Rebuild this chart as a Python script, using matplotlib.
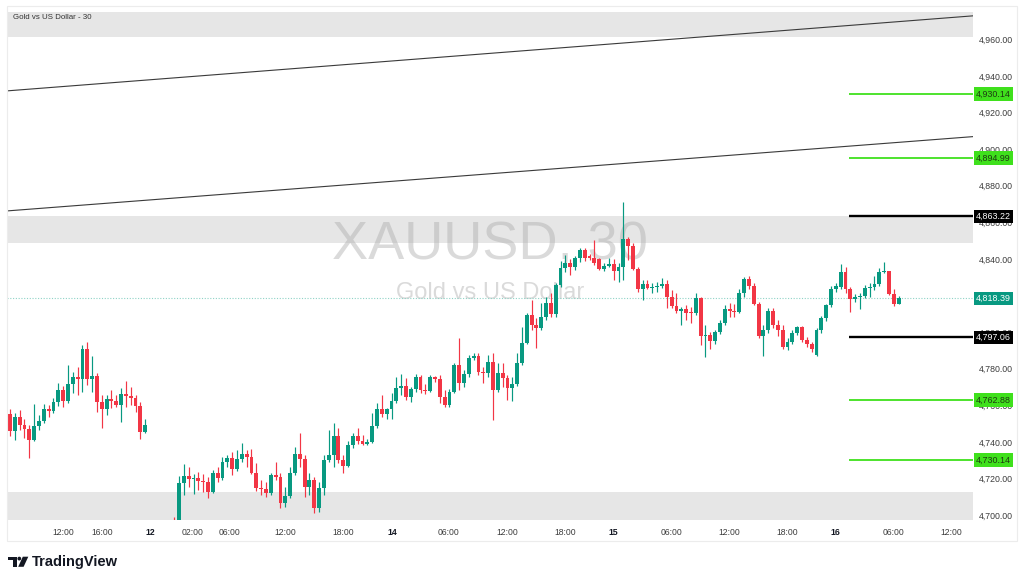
import matplotlib
matplotlib.use('Agg')
import matplotlib.pyplot as plt
import matplotlib.transforms as mtransforms
from matplotlib.patches import Rectangle, Circle, Polygon
import numpy as np

plt.rcParams['font.family'] = ['Liberation Sans', 'DejaVu Sans']

# ---------------- data (30-minute candles, XAUUSD) ----------------
opens = [4755.2, 4746.1, 4753.4, 4749.2, 4746.8, 4741.0, 4748.6, 4751.4, 4757.9, 4757.0,
         4761.7, 4768.3, 4762.5, 4771.6, 4775.6, 4774.5, 4790.5, 4774.5, 4776.0, 4761.9,
         4758.1, 4763.6, 4762.5, 4760.1, 4765.9, 4765.0, 4763.8, 4759.6, 4745.5, 4688.0,
         4680.0, 4676.0, 4684.0, 4679.0, 4686.0, 4683.0, 4717.3, 4721.3, 4719.7, 4720.2,
         4718.8, 4717.9, 4712.8, 4722.8, 4720.0, 4729.2, 4731.0, 4725.0, 4730.4, 4733.4,
         4731.9, 4723.2, 4714.6, 4714.2, 4712.2, 4721.9, 4721.0, 4706.4, 4710.4, 4723.2,
         4733.4, 4730.4, 4715.1, 4719.1, 4703.7, 4714.6, 4730.1, 4732.8, 4743.2, 4730.1,
         4726.8, 4738.3, 4743.2, 4740.6, 4738.8, 4740.0, 4748.7, 4757.8, 4755.2, 4757.8,
         4762.5, 4769.6, 4770.5, 4764.7, 4768.7, 4775.2, 4768.3, 4767.8, 4775.6, 4774.1,
         4764.6, 4760.1, 4767.4, 4782.0, 4772.3, 4777.0, 4786.0, 4787.1, 4778.3, 4777.8,
         4783.8, 4768.3, 4777.8, 4774.7, 4769.2, 4771.6, 4782.9, 4794.2, 4809.3, 4803.8,
         4802.4, 4808.0, 4816.0, 4809.8, 4825.7, 4834.8, 4837.9, 4835.3, 4840.3, 4844.8,
         4841.5, 4840.3, 4839.7, 4834.2, 4836.0, 4837.2, 4833.5, 4835.3, 4850.6, 4847.0,
         4834.2, 4823.3, 4826.0, 4823.9, 4824.8, 4825.1, 4826.0, 4819.3, 4814.2, 4811.7,
         4812.4, 4810.5, 4810.2, 4818.4, 4797.8, 4798.3, 4795.2, 4800.2, 4805.1, 4812.4,
         4811.6, 4811.1, 4821.5, 4828.8, 4825.1, 4815.6, 4797.8, 4801.4, 4811.6, 4803.8,
         4801.4, 4792.0, 4794.7, 4799.6, 4802.9, 4795.6, 4793.4, 4787.4, 4801.1, 4807.5,
         4814.7, 4823.3, 4824.4, 4833.0, 4823.4, 4817.9, 4819.0, 4819.7, 4823.9, 4824.5,
         4826.3, 4833.0, 4833.6, 4820.8, 4815.4]
highs = [4757.7, 4756.0, 4757.4, 4752.3, 4749.2, 4760.7, 4754.6, 4760.7, 4760.1, 4763.7,
         4772.0, 4770.5, 4782.0, 4778.3, 4780.7, 4792.9, 4794.7, 4786.9, 4777.8, 4765.6,
         4765.6, 4768.3, 4765.6, 4769.2, 4773.4, 4770.1, 4765.6, 4761.9, 4752.3, 4693.0,
         4686.0, 4690.0, 4689.0, 4692.0, 4699.1, 4721.3, 4727.9, 4726.1, 4722.4, 4723.7,
         4722.4, 4721.0, 4724.6, 4726.1, 4731.5, 4732.8, 4734.6, 4735.5, 4739.5, 4735.5,
         4735.9, 4728.6, 4719.1, 4718.2, 4723.2, 4729.2, 4722.8, 4715.5, 4726.1, 4737.4,
         4745.0, 4732.8, 4722.8, 4721.0, 4718.2, 4732.8, 4746.5, 4750.1, 4747.4, 4732.8,
         4740.6, 4744.7, 4747.4, 4743.7, 4741.4, 4756.0, 4761.0, 4765.6, 4758.3, 4766.9,
         4775.6, 4776.9, 4774.7, 4770.1, 4776.9, 4776.5, 4771.4, 4776.5, 4776.1, 4776.5,
         4768.3, 4768.7, 4782.9, 4796.5, 4779.2, 4787.4, 4788.7, 4788.4, 4781.1, 4787.4,
         4788.4, 4782.9, 4782.9, 4776.5, 4775.6, 4788.4, 4802.9, 4810.6, 4817.5, 4807.5,
         4815.7, 4819.3, 4821.1, 4826.6, 4839.0, 4842.1, 4839.7, 4841.5, 4845.7, 4845.7,
         4842.5, 4850.3, 4840.3, 4837.5, 4840.3, 4839.7, 4837.5, 4871.2, 4852.1, 4848.4,
         4835.7, 4828.4, 4828.4, 4826.6, 4827.5, 4829.3, 4828.4, 4822.9, 4821.1, 4813.8,
         4814.7, 4813.8, 4821.1, 4819.3, 4803.8, 4800.2, 4801.4, 4806.5, 4814.7, 4816.0,
         4815.6, 4823.8, 4830.2, 4830.6, 4826.6, 4816.6, 4803.8, 4812.9, 4812.9, 4806.5,
         4803.8, 4796.5, 4801.1, 4803.3, 4803.3, 4797.1, 4794.7, 4802.0, 4808.7, 4815.6,
         4825.1, 4826.6, 4837.1, 4835.8, 4824.8, 4820.8, 4821.2, 4825.7, 4826.6, 4830.7,
         4834.9, 4838.5, 4833.6, 4823.4, 4819.7]
lows = [4743.2, 4741.0, 4746.5, 4741.9, 4731.0, 4740.6, 4746.4, 4750.1, 4753.4, 4755.6,
        4759.6, 4759.2, 4761.0, 4766.5, 4765.6, 4767.4, 4771.0, 4767.4, 4756.5, 4747.4,
        4754.6, 4758.3, 4758.8, 4751.0, 4759.2, 4760.1, 4756.5, 4741.3, 4744.6, 4672.0,
        4668.0, 4670.0, 4674.0, 4675.0, 4678.0, 4680.0, 4711.0, 4715.1, 4711.5, 4713.7,
        4712.8, 4709.1, 4711.9, 4718.2, 4719.1, 4726.1, 4721.9, 4724.2, 4729.2, 4726.1,
        4722.4, 4713.3, 4711.0, 4710.0, 4711.0, 4719.1, 4703.7, 4704.2, 4709.1, 4721.9,
        4726.1, 4709.7, 4711.0, 4701.0, 4701.8, 4711.0, 4729.2, 4726.4, 4728.3, 4723.2,
        4726.1, 4736.5, 4738.8, 4738.3, 4738.3, 4739.5, 4747.4, 4753.8, 4752.3, 4752.3,
        4761.0, 4765.6, 4762.8, 4761.9, 4767.4, 4766.5, 4765.9, 4767.0, 4772.9, 4761.0,
        4759.2, 4759.2, 4766.5, 4768.3, 4770.1, 4775.6, 4784.7, 4776.5, 4772.0, 4775.6,
        4751.9, 4767.4, 4770.1, 4762.8, 4762.5, 4770.5, 4782.0, 4793.4, 4801.1, 4791.1,
        4801.4, 4806.5, 4808.4, 4808.4, 4824.8, 4833.0, 4831.1, 4833.9, 4838.4, 4839.0,
        4839.2, 4836.6, 4833.9, 4833.5, 4835.3, 4828.4, 4827.5, 4828.4, 4839.3, 4833.9,
        4822.0, 4817.5, 4823.3, 4821.1, 4822.0, 4824.0, 4812.9, 4812.9, 4810.2, 4804.0,
        4806.5, 4804.7, 4809.3, 4792.9, 4786.1, 4790.5, 4793.4, 4798.9, 4803.8, 4808.4,
        4808.4, 4810.2, 4819.3, 4823.3, 4814.7, 4796.5, 4786.9, 4799.3, 4802.0, 4797.8,
        4790.5, 4790.1, 4793.4, 4798.3, 4794.7, 4792.0, 4789.2, 4786.9, 4799.6, 4806.2,
        4813.5, 4822.0, 4823.3, 4821.2, 4811.2, 4816.6, 4812.4, 4818.5, 4819.4, 4823.0,
        4825.2, 4832.5, 4820.3, 4814.3, 4815.4]
closes = [4746.1, 4753.4, 4749.2, 4746.8, 4741.0, 4748.6, 4751.4, 4757.9, 4757.0, 4761.7,
          4768.3, 4762.5, 4771.6, 4775.6, 4774.5, 4790.5, 4774.5, 4776.0, 4761.9, 4758.1,
          4763.6, 4762.5, 4760.1, 4765.9, 4765.0, 4763.8, 4759.6, 4745.5, 4749.2, 4680.0,
          4676.0, 4684.0, 4679.0, 4686.0, 4683.0, 4717.3, 4721.3, 4719.7, 4720.2, 4718.8,
          4717.9, 4712.8, 4722.8, 4720.0, 4729.2, 4731.0, 4725.0, 4730.4, 4733.4, 4731.9,
          4723.2, 4714.6, 4714.2, 4712.2, 4721.9, 4721.0, 4706.4, 4710.4, 4723.2, 4733.4,
          4730.4, 4715.1, 4719.1, 4703.7, 4714.6, 4730.1, 4732.8, 4743.2, 4730.1, 4726.8,
          4738.3, 4743.2, 4740.6, 4738.8, 4740.0, 4748.7, 4757.8, 4755.2, 4757.8, 4762.5,
          4769.6, 4770.5, 4764.7, 4768.7, 4775.2, 4768.3, 4767.8, 4775.6, 4774.1, 4764.6,
          4760.1, 4767.4, 4782.0, 4772.3, 4777.0, 4786.0, 4787.1, 4778.3, 4777.8, 4783.8,
          4768.3, 4777.8, 4774.7, 4769.2, 4771.6, 4782.9, 4794.2, 4809.3, 4803.8, 4802.4,
          4808.0, 4816.0, 4809.8, 4825.7, 4834.8, 4837.9, 4835.3, 4840.3, 4844.8, 4840.3,
          4840.3, 4837.5, 4834.2, 4836.0, 4837.2, 4833.5, 4835.3, 4850.6, 4847.0, 4834.2,
          4823.3, 4826.0, 4823.9, 4824.8, 4825.1, 4826.0, 4819.3, 4814.2, 4811.7, 4812.4,
          4810.5, 4810.2, 4818.4, 4797.8, 4798.3, 4795.2, 4800.2, 4805.1, 4812.4, 4811.6,
          4811.1, 4821.5, 4828.8, 4825.1, 4815.6, 4797.8, 4801.4, 4811.6, 4803.8, 4801.4,
          4792.0, 4794.7, 4799.6, 4802.9, 4795.6, 4793.4, 4790.5, 4801.1, 4807.5, 4814.7,
          4823.3, 4825.1, 4833.0, 4823.4, 4817.9, 4819.0, 4819.7, 4823.9, 4824.5, 4826.3,
          4833.0, 4833.6, 4820.8, 4815.4, 4818.39]

time_labels = ['12:00', '16:00', '12', '02:00', '06:00', '12:00', '18:00', '14', '06:00',
               '12:00', '18:00', '15', '06:00', '12:00', '18:00', '16', '06:00', '12:00']
time_label_bar = [11, 19, 29, 37.7, 45.5, 57, 69, 79.2, 90.7, 103, 115, 125, 137, 149,
                  161, 171, 183, 195]
day_labels = ['12', '14', '15', '16']

green_levels = [4930.14, 4894.99, 4762.88, 4730.14]
black_levels = [4863.22, 4797.06]
last_price = 4818.39
level_start_bar = 173.7

zones = [(4961.1, 4990.0), (4848.5, 4863.2), (4680.0, 4712.5)]
trend_upper = [(-0.6, 4931.8), (199.4, 4972.8)]
trend_lower = [(-0.6, 4866.2), (199.4, 4906.8)]

price_ticks = list(range(4700, 4961, 20))

# ---------------- figure ----------------
W, H = 1024, 582
fig = plt.figure(figsize=(W / 100, H / 100), dpi=100)
fig.patch.set_facecolor('white')
ax = fig.add_axes([7 / W, 1 - 520 / H, (973 - 7) / W, (520 - 12) / H])
ax.set_facecolor('white')
XMIN, XMAX = -0.62, 199.4
ax.set_xlim(XMIN, XMAX)
ax.set_ylim(4697.3, 4974.9)
for s in ax.spines.values():
    s.set_visible(False)

# zones
for lo, hi in zones:
    ax.axhspan(lo, hi, color='#e6e6e6', zorder=1, lw=0)

# watermark
ax.text(0.5, 0.541, 'XAUUSD, 30', transform=ax.transAxes, ha='center', va='center',
        fontsize=39, color='#a8a8a8', alpha=0.42, zorder=2)
ax.text(0.5, 0.447, 'Gold vs US Dollar', transform=ax.transAxes, ha='center', va='center',
        fontsize=17, color='#a8a8a8', alpha=0.42, zorder=2)

# title
ax.text(0.0059, 0.9896, 'Gold vs US Dollar - 30', transform=ax.transAxes, ha='left',
        va='center', fontsize=5.7, color='#333333', zorder=6)

# trend lines
for line in (trend_upper, trend_lower):
    xs = [p[0] for p in line]
    ys = [p[1] for p in line]
    ax.plot(xs, ys, color='#3a3a3a', lw=0.8, zorder=3)

# last price dotted line
ax.axhline(last_price, color='#8fd3c6', lw=0.8, ls=(0, (1, 1.5)), zorder=2.5)

# candles
O = np.array(opens); Hh = np.array(highs); L = np.array(lows); C = np.array(closes)
x = np.arange(len(O))
up = C >= O
cols = np.where(up, '#089981', '#F23645')
ax.vlines(x, L, Hh, colors=cols, lw=0.85, zorder=3.5)
bottom = np.minimum(O, C)
height = np.maximum(np.abs(C - O), 0.5)
ax.bar(x, height, bottom=bottom, width=0.8, color=cols, lw=0, zorder=4)

# level lines
ax.hlines(green_levels, level_start_bar, XMAX, colors='#3fe01c', lw=1.3, zorder=5)
ax.hlines(black_levels, level_start_bar, XMAX, colors='#000000', lw=1.7, zorder=5)

# axes ticks
ax.yaxis.tick_right()
ax.set_yticks(price_ticks)
ax.set_yticklabels([f'{v:,.2f}' for v in price_ticks])
ax.tick_params(axis='y', length=0, pad=4.5, labelsize=6.3, labelcolor='#3c3c3c')
ax.set_xticks(time_label_bar)
ax.set_xticklabels(time_labels)
ax.tick_params(axis='x', length=0, pad=6, labelsize=6.2, labelcolor='#3c3c3c')
for t in ax.get_xticklabels():
    if t.get_text() in day_labels:
        t.set_fontweight('bold')
        t.set_color('#131722')
ax.grid(False)

# price labels on axis
trans = mtransforms.blended_transform_factory(ax.transAxes, ax.transData)
def price_tag(v, bg, fg):
    ax.text(1.0033, v, f'{v:,.2f}', transform=trans, ha='left', va='center',
            fontsize=6.4, color=fg, zorder=10, clip_on=False,
            bbox=dict(boxstyle='square,pad=0.26', fc=bg, ec='none'))
for v in green_levels:
    price_tag(v, '#3fe01c', '#1d3a12')
for v in black_levels:
    price_tag(v, '#000000', '#ffffff')
price_tag(last_price, '#089981', '#ffffff')

# overlay: border and logo
ov = fig.add_axes([0, 0, 1, 1], zorder=20)
ov.set_xlim(0, W)
ov.set_ylim(H, 0)
ov.axis('off')
ov.patch.set_alpha(0)
ov.add_patch(Rectangle((6.5, 5.5), 1010, 535, fill=False, ec='#ececec', lw=0.8))
ov.add_patch(Polygon([(8.3, 556.7), (16.8, 556.7), (16.8, 566.8), (12.6, 566.8),
                      (12.6, 560.3), (8.3, 560.3)], closed=True, fc='#131722', ec='none'))
ov.add_patch(Circle((19.3, 558.6), 1.9, fc='#131722', ec='none'))
ov.add_patch(Polygon([(22.8, 556.7), (28.3, 556.7), (23.6, 566.8), (18.2, 566.8)],
                     closed=True, fc='#131722', ec='none'))
ov.text(31.5, 561.8, 'TradingView', ha='left', va='center', fontsize=10.5,
        fontweight='bold', color='#131722')

fig.savefig('out.png', dpi=100, facecolor='white')
